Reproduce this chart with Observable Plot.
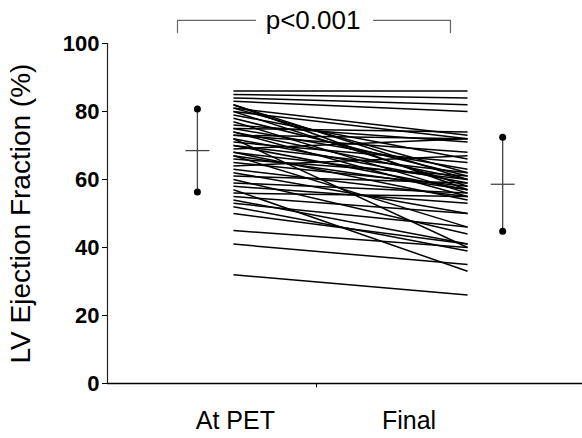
<!DOCTYPE html>
<html><head><meta charset="utf-8">
<script src="https://cdn.jsdelivr.net/npm/d3@7"></script>
<script src="https://cdn.jsdelivr.net/npm/@observablehq/plot@0.6"></script>
<style>body{margin:0;background:#fff}</style>
</head><body><div id="chart"></div>
<script>
// Data: LV ejection fraction (%) per patient, at PET and final
const efAtPET = [86,85,84,83,82,82,81,81,80,80,79,78,77,76,75,75,74,74,73,73,72,72,71,70,70,69,68,68,67,67,66,65,64,63,62,61,60,59,58,57,56,55,54,53,52,50,45,41,32];
const efFinal = [86,84,82,80,60,57,73,62,72,58,66,61,56,71,74,63,60,55,72,68,59,40,65,57,62,72,60,54,57,46,61,58,67,55,50,59,44,56,53,33,55,50,41,46,39,41,40,35,26];
const groupLabels = ["At PET", "Final"];
const meanValues = [68.5, 58.6];
const sdValues = [12.2, 13.8];
const pLabel = "p<0.001";
const yTicks = [0, 20, 40, 60, 80, 100];
const yLabel = "LV Ejection Fraction (%)";

// Layout (x in data units: 0 = At PET, 1 = Final)
const L = {
  xDomain: [-0.538, 1.491],
  summaryX: [-0.154, 1.15],
  barHalf: 0.051,
  labelX: [0.008, 0.75],
  labelY: -11.0,
  tickX: 0.355,
  bracketX: [-0.239, 0.094, 0.598, 0.927],
  bracketY: [106.8, 103.2],
  pX: 0.34,
  yLabelX: -0.906,
  yLabelY: 50
};

const pairs = efAtPET.map((v, i) => ({pet: v, fin: efFinal[i]}));
const summary = meanValues.map((m, i) => ({x: L.summaryX[i], mean: m, lo: m - sdValues[i], hi: m + sdValues[i]}));
const bracket = [
  [{x: L.bracketX[0], y: L.bracketY[1]}, {x: L.bracketX[0], y: L.bracketY[0]}, {x: L.bracketX[1], y: L.bracketY[0]}],
  [{x: L.bracketX[2], y: L.bracketY[0]}, {x: L.bracketX[3], y: L.bracketY[0]}, {x: L.bracketX[3], y: L.bracketY[1]}]
];

const chart = Plot.plot({
  width: 582, height: 438,
  marginLeft: 107, marginRight: 0, marginTop: 43, marginBottom: 55,
  style: {fontFamily: "'Liberation Sans', Arial, sans-serif", fontSize: "21px", background: "#fff", color: "#000", overflow: "visible"},
  x: {domain: L.xDomain, axis: null},
  y: {domain: [0, 100], axis: null},
  marks: [
    Plot.ruleX([L.xDomain[0]], {y1: 0, y2: 100, stroke: "#222", strokeWidth: 1.2}),
    Plot.ruleY([0], {stroke: "#000", strokeWidth: 1.5}),
    Plot.ruleX([L.tickX], {y1: 0, y2: -1.3, stroke: "#000"}),
    Plot.axisY({ticks: yTicks, tickSize: 5, tickPadding: 3, fontWeight: "bold", fontSize: 22, stroke: "#000"}),
    Plot.link(pairs, {x1: () => 0, x2: () => 1, y1: "pet", y2: "fin", stroke: "#000", strokeWidth: 1.5}),
    Plot.ruleX(summary, {x: "x", y1: "lo", y2: "hi", stroke: "#444", strokeWidth: 1.3}),
    Plot.link(summary, {x1: d => d.x - L.barHalf, x2: d => d.x + L.barHalf, y1: "mean", y2: "mean", stroke: "#444", strokeWidth: 1.3}),
    Plot.dot(summary, {x: "x", y: "lo", r: 3.5, fill: "#000"}),
    Plot.dot(summary, {x: "x", y: "hi", r: 3.5, fill: "#000"}),
    ...bracket.map(seg => Plot.line(seg, {x: "x", y: "y", stroke: "#666", strokeWidth: 1.2})),
    Plot.text([pLabel], {x: L.pX, y: L.bracketY[0], text: d => d, fontSize: 26, fill: "#000"}),
    Plot.text(groupLabels, {x: (d, i) => L.labelX[i], y: L.labelY, text: d => d, fontSize: 25, fill: "#000"}),
    Plot.text([yLabel], {x: L.yLabelX, y: L.yLabelY, text: d => d, rotate: -90, fontSize: 28, fill: "#000"})
  ]
});
document.getElementById("chart").appendChild(chart);
</script>
</body></html>
